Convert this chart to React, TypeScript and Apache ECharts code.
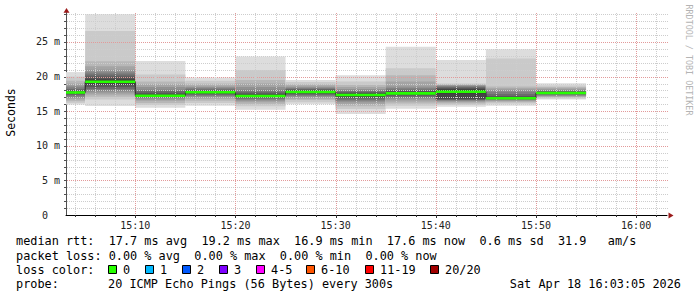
import React, { useEffect, useRef } from "react";
import * as echarts from "echarts";

// ---- data (times in minutes after 15:00, values in ms) ----
const axisStartMin = 3 + 5 / 60; // 15:03:05
const axisEndMin = 63 + 5 / 60; // 16:03:05
const stepMin = 5;
const stepEnds = [5, 10, 15, 20, 25, 30, 35, 40, 45, 50, 55];
const medians = [17.7, 19.25, 17.24, 17.73, 17.2, 17.77, 17.34, 17.58, 17.8, 16.86, 17.63];

const p1505 = [15.95, 16.2, 16.45, 16.7, 16.9, 17.1, 17.3, 17.45, 17.55, 17.65, 17.75, 17.85, 18.0, 18.2, 18.45, 18.7, 19.0, 19.4, 20.0, 20.65];
const p1510 = [15.75, 16.7, 17.1, 17.4, 17.7, 17.95, 18.2, 18.5, 18.8, 19.1, 19.4, 19.7, 20.0, 20.3, 20.6, 21.0, 21.5, 22.2, 26.6, 29.0];
const p1515 = [15.5, 15.9, 16.2, 16.5, 16.7, 16.9, 17.0, 17.1, 17.15, 17.2, 17.3, 17.45, 17.65, 17.9, 18.1, 18.5, 18.9, 19.3, 20.3, 22.25];
const p1520 = [15.8, 16.2, 16.5, 16.8, 17.0, 17.2, 17.35, 17.5, 17.6, 17.7, 17.8, 17.9, 18.0, 18.15, 18.3, 18.5, 18.7, 19.0, 19.4, 19.85];
const p1525 = [15.2, 15.7, 16.0, 16.3, 16.5, 16.7, 16.85, 17.0, 17.1, 17.15, 17.25, 17.4, 17.6, 17.8, 18.1, 18.5, 19.0, 19.5, 20.95, 22.9];
const p1530 = [16.0, 16.3, 16.6, 16.8, 17.0, 17.2, 17.35, 17.5, 17.6, 17.7, 17.85, 17.95, 18.1, 18.2, 18.35, 18.5, 18.7, 18.9, 19.2, 19.5];
const p1535 = [14.6, 15.3, 15.7, 16.0, 16.3, 16.5, 16.7, 16.9, 17.1, 17.25, 17.4, 17.55, 17.7, 17.85, 18.0, 18.2, 18.5, 18.8, 19.3, 20.2];
const p1540 = [15.35, 15.8, 16.1, 16.4, 16.7, 16.9, 17.1, 17.25, 17.4, 17.5, 17.65, 17.8, 17.95, 18.1, 18.3, 18.55, 19.3, 20.2, 21.2, 24.3];
const p1545 = [15.65, 15.9, 16.1, 16.3, 16.45, 16.55, 16.6, 16.7, 16.8, 17.6, 18.0, 18.2, 18.35, 18.5, 18.6, 18.7, 18.8, 18.9, 19.0, 22.4];
const p1550 = [15.8, 16.1, 16.3, 16.45, 16.55, 16.65, 16.72, 16.78, 16.82, 16.85, 16.88, 17.0, 17.2, 17.5, 17.8, 18.1, 18.3, 18.55, 22.6, 23.95];
const p1555 = [16.7, 16.85, 17.0, 17.1, 17.2, 17.3, 17.4, 17.5, 17.55, 17.6, 17.65, 17.7, 17.8, 17.9, 18.0, 18.15, 18.3, 18.5, 18.7, 19.05];
const pings = [p1505, p1510, p1515, p1520, p1525, p1530, p1535, p1540, p1545, p1550, p1555];

const bandGrays = [221, 202, 183, 164, 145, 126, 107, 88, 69, 50];
const xLabelMinutes = [10, 20, 30, 40, 50, 60];
const yMax = 29.62;

const lossLabels = ["0", "1", "2", "3", "4-5", "6-10", "11-19", "20/20"];
const lossColors = ["#26ff00", "#00b8ff", "#0059ff", "#7e00ff", "#ff00ff", "#ff5500", "#ff0000", "#a10000"];

const statsLine1 = "median rtt:  17.7 ms avg  19.2 ms max  16.9 ms min  17.6 ms now  0.6 ms sd  31.9   am/s";
const statsLine2 = "packet loss: 0.00 % avg  0.00 % max  0.00 % min  0.00 % now";
const probeText = "20 ICMP Echo Pings (56 Bytes) every 300s";
const dateText = "Sat Apr 18 16:03:05 2026";

const MONO = "'DejaVu Sans Mono', monospace";
const nb = (s: string) => s.replace(/ /g, "\u00a0");

export default function App() {
  const ref = useRef<HTMLDivElement>(null);
  useEffect(() => {
    if (!ref.current) return;
    const chart = echarts.init(ref.current, null, { renderer: "svg", width: 697, height: 297 });

    const bars = stepEnds.map((e, i) => [Math.max(axisStartMin, e - stepMin), e, medians[i]]);
    const connector: number[][] = [];
    bars.forEach((b) => {
      connector.push([b[0], b[2]]);
      connector.push([b[1], b[2]]);
    });

    const minorH: number[] = [];
    const majorH: number[] = [];
    for (let v = 1; v <= Math.floor(yMax); v++) (v % 5 === 0 ? majorH : minorH).push(v);
    const minorV: number[] = [];
    const majorV: number[] = [];
    for (let m = 4; m < axisEndMin; m += 2) (m % 10 === 0 ? majorV : minorV).push(m);

    const legendX = [108, 145, 182, 219, 256, 306, 365, 430];

    const graphics: any[] = [
      { type: "text", x: 16, y: 241, style: { text: nb(statsLine1), font: `11.85px ${MONO}`, fill: "#000", verticalAlign: "middle" } },
      { type: "text", x: 16, y: 256, style: { text: nb(statsLine2), font: `11.85px ${MONO}`, fill: "#000", verticalAlign: "middle" } },
      { type: "text", x: 16, y: 270, style: { text: nb("loss color:"), font: `11.85px ${MONO}`, fill: "#000", verticalAlign: "middle" } },
      { type: "text", x: 16, y: 284, style: { text: "probe:", font: `11.85px ${MONO}`, fill: "#000", verticalAlign: "middle" } },
      { type: "text", x: 108, y: 284, style: { text: nb(probeText), font: `11.85px ${MONO}`, fill: "#000", verticalAlign: "middle" } },
      { type: "text", x: 681, y: 284, style: { text: nb(dateText), font: `11.85px ${MONO}`, fill: "#000", align: "right", verticalAlign: "middle" } },
      { type: "text", x: 11, y: 112.5, rotation: Math.PI / 2, style: { text: "Seconds", font: `11.5px ${MONO}`, fill: "#000", align: "center", verticalAlign: "middle" } },
      { type: "text", x: 688.5, y: 60, rotation: -Math.PI / 2, style: { text: nb("RRDTOOL / TOBI OETIKER"), font: `8.4px ${MONO}`, fill: "#b4b4b4", align: "center", verticalAlign: "middle" } },
      { type: "polygon", shape: { points: [[63.5, 12.8], [69.5, 12.8], [66.5, 8]] }, style: { fill: "#9b1a1a" }, z: 10 },
      { type: "polygon", shape: { points: [[668.5, 212.5], [668.5, 218.5], [673.5, 215.5]] }, style: { fill: "#9b1a1a" }, z: 10 },
    ];
    lossLabels.forEach((lab, i) => {
      graphics.push({ type: "rect", shape: { x: legendX[i] + 0.5, y: 265.5, width: 8, height: 8 }, style: { fill: lossColors[i], stroke: "#000", lineWidth: 1 } });
      graphics.push({ type: "text", x: legendX[i] + 15, y: 270, style: { text: lab, font: `11.85px ${MONO}`, fill: "#000", verticalAlign: "middle" } });
    });

    const option: any = {
      animation: false,
      backgroundColor: "#fff",
      grid: { left: 66, right: 30, top: 10, bottom: 82 },
      xAxis: {
        type: "value",
        min: axisStartMin,
        max: axisEndMin,
        axisLine: { show: true, lineStyle: { color: "#000", width: 1 } },
        axisTick: { show: false },
        splitLine: { show: false },
        axisLabel: {
          customValues: xLabelMinutes,
          margin: 5,
          fontFamily: MONO,
          fontSize: 10,
          color: "#222",
          formatter: (v: number) => {
            const h = 15 + Math.floor(v / 60);
            const m = Math.round(v % 60);
            return `${h}:${m < 10 ? "0" + m : m}`;
          },
        },
      },
      yAxis: {
        type: "value",
        min: 0,
        max: yMax,
        interval: 5,
        axisLine: { show: true, lineStyle: { color: "#505050", width: 1 } },
        axisTick: { show: false },
        splitLine: { show: false },
        axisLabel: {
          margin: 6,
          fontFamily: MONO,
          fontSize: 10,
          color: "#222",
          showMaxLabel: false,
          formatter: (v: number) => (v === 0 ? "0\u00a0\u00a0" : Math.abs(v % 5) < 1e-6 ? `${v}\u00a0m` : ""),
        },
      },
      graphic: graphics,
      series: [
        {
          type: "custom",
          name: "smoke",
          z: 1,
          silent: true,
          data: bars,
          encode: { x: [0, 1], y: 2 },
          renderItem: (params: any, api: any) => {
            const idx = params.dataIndex;
            const s = api.value(0);
            const e = api.value(1);
            const ps = pings[idx];
            const children = bandGrays.map((g, k) => {
              const lo = api.coord([s, ps[k]]);
              const hi = api.coord([e, ps[ps.length - 1 - k]]);
              return {
                type: "rect",
                shape: { x: lo[0], y: hi[1], width: hi[0] - lo[0], height: lo[1] - hi[1] },
                style: { fill: `rgb(${g},${g},${g})` },
              };
            });
            return { type: "group", children };
          },
        },
        {
          type: "custom",
          name: "grid",
          z: 2,
          silent: true,
          data: [[axisStartMin, 0]],
          encode: { x: 0, y: 1 },
          renderItem: (params: any, api: any) => {
            const children: any[] = [];
            const x0 = api.coord([axisStartMin, 0]);
            const x1 = api.coord([axisEndMin, 0]);
            const yTop = api.coord([axisStartMin, yMax])[1];
            const hline = (v: number, color: string) => {
              const y = Math.round(api.coord([axisStartMin, v])[1]) + 0.5;
              children.push({ type: "line", shape: { x1: x0[0] + 1, y1: y, x2: x1[0] + 2, y2: y }, style: { stroke: color, lineWidth: 1, lineDash: [1, 1] } });
              children.push({ type: "line", shape: { x1: x0[0] - 2, y1: y, x2: x0[0], y2: y }, style: { stroke: "#505050", lineWidth: 1 } });
            };
            const vline = (m: number, color: string, tick: number) => {
              const x = Math.round(api.coord([m, 0])[0]) + 0.5;
              children.push({ type: "line", shape: { x1: x, y1: x0[1] - 1, x2: x, y2: yTop + 3 }, style: { stroke: color, lineWidth: 1, lineDash: [1, 1] } });
              children.push({ type: "line", shape: { x1: x, y1: x0[1], x2: x, y2: x0[1] + tick }, style: { stroke: "#333", lineWidth: 1 } });
            };
            minorH.forEach((v) => hline(v, "#cdcdcd"));
            majorH.forEach((v) => hline(v, "#e29a9a"));
            minorV.forEach((m) => vline(m, "#cdcdcd", 2));
            majorV.forEach((m) => vline(m, "#e29a9a", 3));
            return { type: "group", children };
          },
        },
        {
          type: "line",
          name: "median-connector",
          z: 3,
          silent: true,
          data: connector,
          showSymbol: false,
          symbol: "none",
          lineStyle: { color: "#202020", width: 1 },
        },
        {
          type: "custom",
          name: "median",
          z: 4,
          silent: true,
          data: bars,
          encode: { x: [0, 1], y: 2 },
          renderItem: (params: any, api: any) => {
            const a = api.coord([api.value(0), api.value(2)]);
            const b = api.coord([api.value(1), api.value(2)]);
            return {
              type: "rect",
              shape: { x: a[0], y: a[1] - 1.3, width: b[0] - a[0], height: 2.6 },
              style: { fill: lossColors[0] },
            };
          },
        },
      ],
    };
    chart.setOption(option);
    return () => chart.dispose();
  }, []);

  return <div ref={ref} style={{ position: "fixed", left: 0, top: 0, width: 697, height: 297, background: "#fff" }} />;
}
